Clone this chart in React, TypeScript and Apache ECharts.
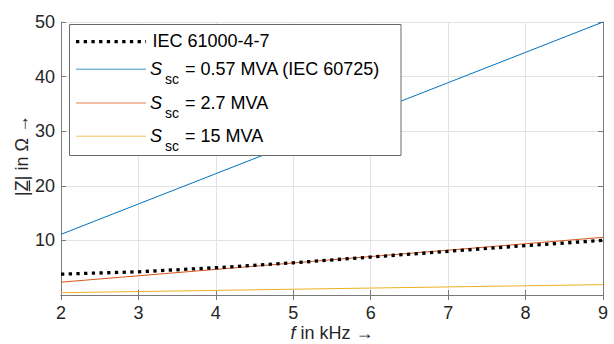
import React, { useEffect, useRef } from "react";
import * as echarts from "echarts";

const freqKHz = [2, 3, 4, 5, 6, 7, 8, 9];
const iec61000 = [3.82, 4.25, 5.0, 5.9, 6.95, 8.0, 9.05, 10.0];
const ssc057 = [11.11, 16.67, 22.22, 27.78, 33.33, 38.89, 44.44, 50.0];
const ssc27 = [2.35, 3.52, 4.69, 5.87, 7.04, 8.21, 9.39, 10.56];
const ssc15 = [0.42, 0.63, 0.84, 1.06, 1.27, 1.48, 1.69, 1.9];
const yTicks = [0, 10, 20, 30, 40, 50];

const seriesNames = ["IEC 61000-4-7", "S_sc = 0.57 MVA (IEC 60725)", "S_sc = 2.7 MVA", "S_sc = 15 MVA"];
const legendMain = ["IEC 61000-4-7", " = 0.57 MVA (IEC 60725)", " = 2.7 MVA", " = 15 MVA"];
const legendHasSsc = [false, true, true, true];

const FONT = '"Liberation Sans", Arial, sans-serif';
const AX = "#262626";
const COLORS = ["#000000", "#0072BD", "#D95319", "#EDB120"];
const LINE_W = [3.3, 1, 1, 1];

// legend layout (pixels)
const LEG_BOX = { x: 69.5, y: 24.5, w: 331.5, h: 131 };
const LEG_ROW_Y = [41.7, 69.2, 103, 136.2];
const LEG_LINE_X = [76, 146];
const LEG_TEXT_X = [152.5, 150, 150, 150];

const pairs = (ys: number[]) => freqKHz.map((f, i) => [f, ys[i]]);

export default function App() {
  const ref = useRef<HTMLDivElement>(null);
  useEffect(() => {
    if (!ref.current) return;
    const chart = echarts.init(ref.current, undefined, { renderer: "svg" });
    const ctx = document.createElement("canvas").getContext("2d")!;
    ctx.font = `18px ${FONT}`;
    const yLabel = "|Z| in Ω →";
    const W = ctx.measureText(yLabel).width;
    const wBar = ctx.measureText("|").width;
    const wZ = ctx.measureText("Z").width;
    const xRest = " in kHz →";
    const wXRest = ctx.measureText(xRest).width;
    ctx.font = `italic 18px ${FONT}`;
    const wS = ctx.measureText("S").width;
    const wF = ctx.measureText("f").width;
    ctx.font = `14px ${FONT}`;
    const wSc = ctx.measureText("sc").width;

    const axisCommon = {
      type: "value" as const,
      axisLine: { show: true, lineStyle: { color: "#7a7a7a", width: 1 } },
      axisTick: { show: true, inside: true, length: 5, lineStyle: { color: "#7a7a7a" } },
    };

    const legendEls: any[] = [
      {
        type: "rect",
        z: 10,
        shape: { x: LEG_BOX.x, y: LEG_BOX.y, width: LEG_BOX.w, height: LEG_BOX.h },
        style: { fill: "#ffffff", stroke: "#6a6a6a", lineWidth: 1 },
      },
    ];
    legendMain.forEach((txt, i) => {
      const yRow = LEG_ROW_Y[i];
      legendEls.push({
        type: "line",
        z: 11,
        shape: { x1: LEG_LINE_X[0], y1: yRow, x2: LEG_LINE_X[1], y2: yRow },
        style: {
          stroke: COLORS[i],
          lineWidth: LINE_W[i],
          lineDash: i === 0 ? [3.3, 4.4] : null,
          opacity: i === 0 ? 1 : 0.75,
        },
      });
      let x = LEG_TEXT_X[i];
      if (legendHasSsc[i]) {
        legendEls.push({
          type: "text",
          z: 11,
          x,
          y: yRow - 0.5,
          style: { text: "S", font: `italic 18px ${FONT}`, fill: "#000", textVerticalAlign: "middle", verticalAlign: "middle" },
        });
        x += wS + 3;
        legendEls.push({
          type: "text",
          z: 11,
          x,
          y: yRow + 9.5,
          style: { text: "sc", font: `14px ${FONT}`, fill: "#000", textVerticalAlign: "middle", verticalAlign: "middle" },
        });
        x += wSc + 1;
      }
      legendEls.push({
        type: "text",
        z: 11,
        x,
        y: yRow - 0.5,
        style: { text: txt, font: `18px ${FONT}`, fill: "#000", textVerticalAlign: "middle", verticalAlign: "middle" },
      });
    });

    const xNameStart = 332 - (wF + wXRest) / 2;
    const xNameEls: any[] = [
      {
        type: "text",
        x: xNameStart,
        y: 333,
        style: { text: "f", font: `italic 18px ${FONT}`, fill: AX, textVerticalAlign: "middle", verticalAlign: "middle" },
      },
      {
        type: "text",
        x: xNameStart + wF,
        y: 333,
        style: { text: xRest, font: `18px ${FONT}`, fill: AX, textVerticalAlign: "middle", verticalAlign: "middle" },
      },
    ];

    chart.setOption({
      animation: false,
      grid: { left: 61, right: 11, top: 22, bottom: 49, containLabel: false, outerBoundsMode: "none" },
      xAxis: [
        {
          ...axisCommon,
          min: 2,
          max: 9,
          interval: 1,
          position: "bottom",
          axisLabel: { fontSize: 18, color: AX, fontFamily: FONT, margin: 9 },
          splitLine: { show: true, lineStyle: { color: "#e3e3e3", width: 1 } },
        },
        {
          ...axisCommon,
          min: 2,
          max: 9,
          interval: 1,
          position: "top",
          axisLabel: { show: false },
          splitLine: { show: false },
        },
      ],
      yAxis: [
        {
          ...axisCommon,
          min: yTicks[0],
          max: yTicks[yTicks.length - 1],
          interval: 10,
          position: "left",
          axisLabel: {
            fontSize: 18,
            color: AX,
            fontFamily: FONT,
            margin: 6,
            formatter: (v: number) => (v === 0 ? "" : String(v)),
          },
          splitLine: { show: true, lineStyle: { color: "#e3e3e3", width: 1 } },
        },
        {
          ...axisCommon,
          min: yTicks[0],
          max: yTicks[yTicks.length - 1],
          interval: 10,
          position: "right",
          axisLabel: { show: false },
          splitLine: { show: false },
        },
      ],
      graphic: [
        {
          type: "group",
          x: 21.5,
          y: 155.5,
          rotation: Math.PI / 2,
          children: [
            {
              type: "text",
              x: 0,
              y: 0,
              style: {
                text: yLabel,
                font: `18px ${FONT}`,
                fill: AX,
                textAlign: "center",
                textVerticalAlign: "middle",
                align: "center",
                verticalAlign: "middle",
              },
            },
            {
              type: "line",
              shape: { x1: -W / 2 + wBar, y1: 8, x2: -W / 2 + wBar + wZ, y2: 8 },
              style: { stroke: AX, lineWidth: 1.2 },
            },
          ],
        },
        ...xNameEls,
        ...legendEls,
      ],
      series: [
        {
          name: seriesNames[1],
          type: "line",
          data: pairs(ssc057),
          symbol: "none",
          lineStyle: { color: COLORS[1], width: 1 },
        },
        {
          name: seriesNames[2],
          type: "line",
          data: pairs(ssc27),
          symbol: "none",
          lineStyle: { color: COLORS[2], width: 1 },
        },
        {
          name: seriesNames[3],
          type: "line",
          data: pairs(ssc15),
          symbol: "none",
          lineStyle: { color: COLORS[3], width: 1 },
        },
        {
          name: seriesNames[0],
          type: "line",
          data: pairs(iec61000),
          symbol: "none",
          z: 3,
          lineStyle: { color: COLORS[0], width: 3.3, type: [3.3, 4.4] },
        },
      ],
    });
    return () => chart.dispose();
  }, []);
  return (
    <div
      ref={ref}
      style={{ position: "fixed", left: 0, top: 0, width: 614, height: 344, background: "#fff" }}
    />
  );
}
